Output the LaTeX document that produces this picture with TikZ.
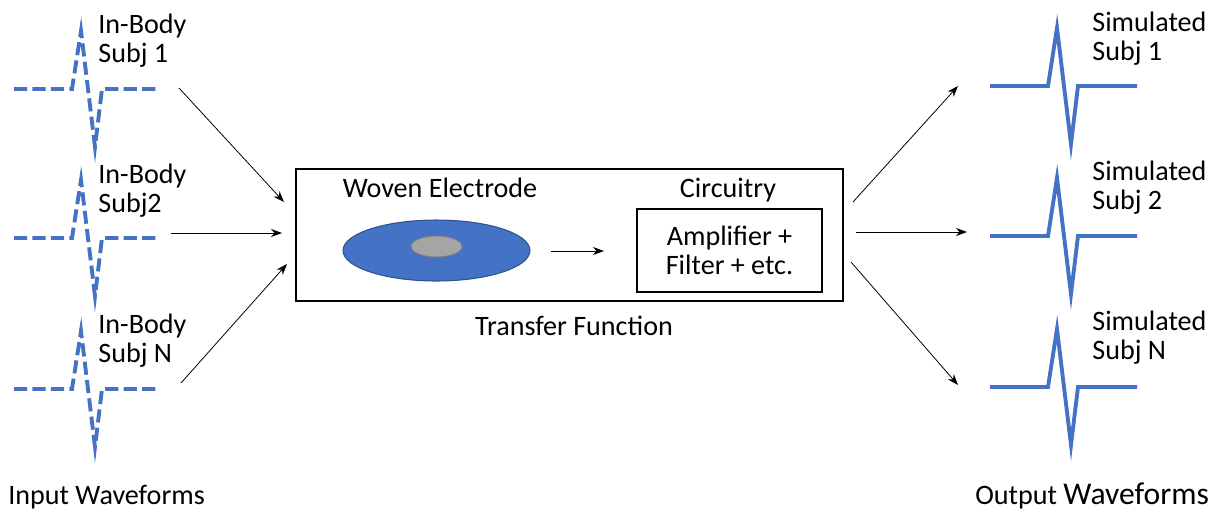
\documentclass[tikz,border=0pt]{standalone}
\usepackage{fontspec}
\setmainfont{Carlito}
\usetikzlibrary{arrows.meta,shapes.geometric}
\definecolor{wblue}{HTML}{4472C4}
\definecolor{wdark}{HTML}{2F528F}
\definecolor{wgray}{HTML}{A5A5A5}
\definecolor{wgrayd}{HTML}{7F7F7F}
\tikzset{
  wave/.style={wblue,line width=2.2pt,line join=miter},
  inwave/.style={wave,dash pattern=on 7.5pt off 3pt},
  lbl/.style={align=left,anchor=north west,inner sep=0pt},
  arr/.style={-{Stealth[length=2.2mm,width=1.6mm]},line width=0.45pt},
}
\begin{document}
\begin{tikzpicture}[x=0.02cm,y=-0.02cm,font=\fontsize{16}{16.5}\selectfont]
\useasboundingbox (0,0) rectangle (1225,512);
% input waveforms
\foreach \b/\t/\n/\s in {89/14/1/In-Body\\Subj 1,238/164/2/In-Body\\Subj2,389/314/3/In-Body\\Subj N}{
  \draw[inwave] (14,\b)--(72,\b)--(81,\b-58)--(95,\b+58)--(102,\b)--(157,\b);
  \node[lbl] (inl\n) at (98,\t) {\s};
}
% output waveforms
\foreach \b/\t/\n/\s in {86/12/1/Simulated\\Subj 1,236/161/2/Simulated\\Subj 2,387/311/3/Simulated\\Subj N}{
  \draw[wave] (990,\b)--(1048,\b)--(1057,\b-58)--(1071,\b+58)--(1078,\b)--(1137,\b);
  \node[lbl] (outl\n) at (1092,\t) {\s};
}
% transfer function
\node[draw,line width=0.9pt,minimum width=10.94cm,minimum height=2.64cm] (tf) at (569.5,235) {};
\node[anchor=base] (woven) at (440,197) {Woven Electrode};
\node[anchor=base] (circ) at (728,197) {Circuitry};
\node[draw,line width=0.9pt,align=center,minimum width=3.7cm,minimum height=1.66cm,inner sep=0pt] (amp) at (729.5,250.5) {Amplifier +\\Filter + etc.};
\node[ellipse,fill=wblue,draw=wdark,line width=0.6pt,minimum width=3.74cm,minimum height=1.22cm,inner sep=0pt] (elec) at (436.5,250.5) {};
\node[ellipse,fill=wgray,draw=wgrayd,line width=0.5pt,minimum width=1.02cm,minimum height=0.42cm,inner sep=0pt] (core) at (436.5,246.5) {};
\node[anchor=base] (tfl) at (574,335) {Transfer Function};
\coordinate (ea) at (551,251);
\coordinate (eb) at (604,251);
\draw[arr] (ea)--(eb);
% connectors
\coordinate (s1) at (179,88);  \coordinate (t1) at (284,202);
\coordinate (s2) at (171,233); \coordinate (t2) at (282,233);
\coordinate (s3) at (181,383); \coordinate (t3) at (287,264);
\coordinate (u1) at (853,202); \coordinate (v1) at (958,86);
\coordinate (u2) at (856,232); \coordinate (v2) at (967,232);
\coordinate (u3) at (851,262); \coordinate (v3) at (958,385);
\foreach \i in {1,2,3}{
  \draw[arr] (s\i)--(t\i);
  \draw[arr] (u\i)--(v\i);
}
\node[anchor=base west,inner sep=0pt] (inw) at (8,504) {Input Waveforms};
\node[anchor=base west,inner sep=0pt] (outw) at (975,504) {Output {\fontsize{18}{18}\selectfont Waveforms}};
\end{tikzpicture}
\end{document}
